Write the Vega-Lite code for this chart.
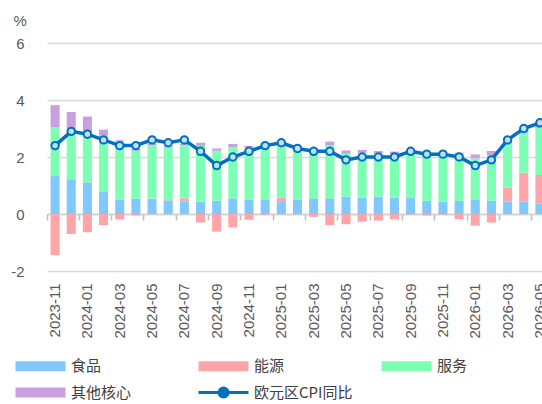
{
  "$schema": "https://vega.github.io/schema/vega-lite/v6.json",
  "width": 501,
  "height": 228,
  "autosize": {"type": "none"},
  "padding": {"left": 47, "top": 43, "right": -6, "bottom": 133},
  "background": "white",
  "config": {"view": {"stroke": null}, "font": "Liberation Sans"},
  "datasets": {
    "bars": [
      {"m":"2023-11","c":"食品","v":1.33},{"m":"2023-11","c":"能源","v":-1.44},{"m":"2023-11","c":"服务","v":1.71},{"m":"2023-11","c":"其他核心","v":0.78},
      {"m":"2023-12","c":"食品","v":1.22},{"m":"2023-12","c":"能源","v":-0.70},{"m":"2023-12","c":"服务","v":1.78},{"m":"2023-12","c":"其他核心","v":0.58},
      {"m":"2024-01","c":"食品","v":1.11},{"m":"2024-01","c":"能源","v":-0.64},{"m":"2024-01","c":"服务","v":1.79},{"m":"2024-01","c":"其他核心","v":0.52},
      {"m":"2024-02","c":"食品","v":0.77},{"m":"2024-02","c":"能源","v":-0.39},{"m":"2024-02","c":"服务","v":1.98},{"m":"2024-02","c":"其他核心","v":0.21},
      {"m":"2024-03","c":"食品","v":0.50},{"m":"2024-03","c":"能源","v":-0.19},{"m":"2024-03","c":"服务","v":2.05},{"m":"2024-03","c":"其他核心","v":0.04},
      {"m":"2024-04","c":"食品","v":0.54},{"m":"2024-04","c":"能源","v":-0.05},{"m":"2024-04","c":"服务","v":1.68},{"m":"2024-04","c":"其他核心","v":0.06},
      {"m":"2024-05","c":"食品","v":0.49},{"m":"2024-05","c":"能源","v":0.05},{"m":"2024-05","c":"服务","v":1.88},{"m":"2024-05","c":"其他核心","v":0.05},
      {"m":"2024-06","c":"食品","v":0.47},{"m":"2024-06","c":"能源","v":0.02},{"m":"2024-06","c":"服务","v":1.87},{"m":"2024-06","c":"其他核心","v":0.03},
      {"m":"2024-07","c":"食品","v":0.43},{"m":"2024-07","c":"能源","v":0.12},{"m":"2024-07","c":"服务","v":1.87},{"m":"2024-07","c":"其他核心","v":0.04},
      {"m":"2024-08","c":"食品","v":0.43},{"m":"2024-08","c":"能源","v":-0.30},{"m":"2024-08","c":"服务","v":1.96},{"m":"2024-08","c":"其他核心","v":0.11},
      {"m":"2024-09","c":"食品","v":0.47},{"m":"2024-09","c":"能源","v":-0.62},{"m":"2024-09","c":"服务","v":1.75},{"m":"2024-09","c":"其他核心","v":0.08},
      {"m":"2024-10","c":"食品","v":0.55},{"m":"2024-10","c":"能源","v":-0.47},{"m":"2024-10","c":"服务","v":1.79},{"m":"2024-10","c":"其他核心","v":0.12},
      {"m":"2024-11","c":"食品","v":0.51},{"m":"2024-11","c":"能源","v":-0.20},{"m":"2024-11","c":"服务","v":1.83},{"m":"2024-11","c":"其他核心","v":0.05},
      {"m":"2024-12","c":"食品","v":0.49},{"m":"2024-12","c":"能源","v":-0.03},{"m":"2024-12","c":"服务","v":1.96},{"m":"2024-12","c":"其他核心","v":0.02},
      {"m":"2025-01","c":"食品","v":0.42},{"m":"2025-01","c":"能源","v":0.16},{"m":"2025-01","c":"服务","v":1.92},{"m":"2025-01","c":"其他核心","v":0.02},
      {"m":"2025-02","c":"食品","v":0.51},{"m":"2025-02","c":"能源","v":0.00},{"m":"2025-02","c":"服务","v":1.79},{"m":"2025-02","c":"其他核心","v":0.02},
      {"m":"2025-03","c":"食品","v":0.55},{"m":"2025-03","c":"能源","v":-0.10},{"m":"2025-03","c":"服务","v":1.70},{"m":"2025-03","c":"其他核心","v":0.05},
      {"m":"2025-04","c":"食品","v":0.55},{"m":"2025-04","c":"能源","v":-0.39},{"m":"2025-04","c":"服务","v":1.87},{"m":"2025-04","c":"其他核心","v":0.12},
      {"m":"2025-05","c":"食品","v":0.61},{"m":"2025-05","c":"能源","v":-0.36},{"m":"2025-05","c":"服务","v":1.50},{"m":"2025-05","c":"其他核心","v":0.12},
      {"m":"2025-06","c":"食品","v":0.58},{"m":"2025-06","c":"能源","v":-0.27},{"m":"2025-06","c":"服务","v":1.57},{"m":"2025-06","c":"其他核心","v":0.10},
      {"m":"2025-07","c":"食品","v":0.61},{"m":"2025-07","c":"能源","v":-0.23},{"m":"2025-07","c":"服务","v":1.52},{"m":"2025-07","c":"其他核心","v":0.08},
      {"m":"2025-08","c":"食品","v":0.57},{"m":"2025-08","c":"能源","v":-0.19},{"m":"2025-08","c":"服务","v":1.50},{"m":"2025-08","c":"其他核心","v":0.12},
      {"m":"2025-09","c":"食品","v":0.56},{"m":"2025-09","c":"能源","v":-0.02},{"m":"2025-09","c":"服务","v":1.64},{"m":"2025-09","c":"其他核心","v":0.02},
      {"m":"2025-10","c":"食品","v":0.46},{"m":"2025-10","c":"能源","v":-0.05},{"m":"2025-10","c":"服务","v":1.61},{"m":"2025-10","c":"其他核心","v":0.05},
      {"m":"2025-11","c":"食品","v":0.43},{"m":"2025-11","c":"能源","v":-0.02},{"m":"2025-11","c":"服务","v":1.66},{"m":"2025-11","c":"其他核心","v":0.03},
      {"m":"2025-12","c":"食品","v":0.46},{"m":"2025-12","c":"能源","v":-0.18},{"m":"2025-12","c":"服务","v":1.61},{"m":"2025-12","c":"其他核心","v":0.08},
      {"m":"2026-01","c":"食品","v":0.49},{"m":"2026-01","c":"能源","v":-0.41},{"m":"2026-01","c":"服务","v":1.46},{"m":"2026-01","c":"其他核心","v":0.14},
      {"m":"2026-02","c":"食品","v":0.47},{"m":"2026-02","c":"能源","v":-0.30},{"m":"2026-02","c":"服务","v":1.60},{"m":"2026-02","c":"其他核心","v":0.14},
      {"m":"2026-03","c":"食品","v":0.43},{"m":"2026-03","c":"能源","v":0.49},{"m":"2026-03","c":"服务","v":1.55},{"m":"2026-03","c":"其他核心","v":0.08},
      {"m":"2026-04","c":"食品","v":0.43},{"m":"2026-04","c":"能源","v":1.02},{"m":"2026-04","c":"服务","v":1.40},{"m":"2026-04","c":"其他核心","v":0.12},
      {"m":"2026-05","c":"食品","v":0.36},{"m":"2026-05","c":"能源","v":1.01},{"m":"2026-05","c":"服务","v":1.65},{"m":"2026-05","c":"其他核心","v":0.15}
    ],
    "cpi": [
      {"m":"2023-11","v":2.4},{"m":"2023-12","v":2.9},{"m":"2024-01","v":2.8},{"m":"2024-02","v":2.6},
      {"m":"2024-03","v":2.4},{"m":"2024-04","v":2.4},{"m":"2024-05","v":2.6},{"m":"2024-06","v":2.5},
      {"m":"2024-07","v":2.6},{"m":"2024-08","v":2.2},{"m":"2024-09","v":1.7},{"m":"2024-10","v":2.0},
      {"m":"2024-11","v":2.2},{"m":"2024-12","v":2.4},{"m":"2025-01","v":2.5},{"m":"2025-02","v":2.3},
      {"m":"2025-03","v":2.2},{"m":"2025-04","v":2.2},{"m":"2025-05","v":1.9},{"m":"2025-06","v":2.0},
      {"m":"2025-07","v":2.0},{"m":"2025-08","v":2.0},{"m":"2025-09","v":2.2},{"m":"2025-10","v":2.1},
      {"m":"2025-11","v":2.1},{"m":"2025-12","v":2.0},{"m":"2026-01","v":1.7},{"m":"2026-02","v":1.9},
      {"m":"2026-03","v":2.6},{"m":"2026-04","v":3.0},{"m":"2026-05","v":3.2}
    ]
  },
  "layer": [
    {
      "data": {"name": "bars"},
      "mark": {"type": "bar", "width": {"band": 0.56}},
      "encoding": {
        "x": {
          "field": "m", "type": "ordinal",
          "scale": {"paddingInner": 0, "paddingOuter": 0},
          "axis": {
            "orient": "bottom",
            "values": ["2023-11","2024-01","2024-03","2024-05","2024-07","2024-09","2024-11","2025-01","2025-03","2025-05","2025-07","2025-09","2025-11","2026-01","2026-03","2026-05"],
            "ticks": false, "domain": false, "grid": false,
            "labelAngle": 270, "labelPadding": 12,
            "labelFont": "Liberation Sans", "labelFontSize": 15, "labelColor": "#595959",
            "title": null
          }
        },
        "y": {
          "field": "v", "type": "quantitative", "stack": "zero",
          "scale": {"domain": [-2, 6], "nice": false, "zero": false},
          "axis": {
            "values": [-2, 0, 2, 4, 6],
            "labelExpr": "replace(datum.label, '\u2212', '-')",
            "domain": false, "ticks": false, "labelPadding": 23,
            "labelFont": "Liberation Sans", "labelFontSize": 15, "labelColor": "#595959",
            "gridColor": "#d9d9d9", "gridWidth": 1.5,
            "title": "%", "titleAngle": 0, "titleX": -34, "titleY": -23,
            "titleAlign": "left", "titleBaseline": "middle",
            "titleFont": "Liberation Sans", "titleFontWeight": "normal", "titleFontSize": 15, "titleColor": "#595959"
          }
        },
        "color": {
          "field": "c", "type": "nominal",
          "scale": {
            "domain": ["食品", "能源", "服务", "其他核心", "欧元区CPI同比"],
            "range": ["#80c8ff", "#ffa4a9", "#7dffb4", "#c8a0e0", "#0070c0"]
          },
          "legend": {
            "orient": "none", "legendX": -34, "legendY": 314,
            "columns": 3, "direction": "horizontal", "title": null,
            "symbolSize": 100, "labelOffset": 43, "gridAlign": "all",
            "columnPadding": 22, "rowPadding": 5,
            "labelFont": "Noto Sans CJK SC", "labelFontSize": 15, "labelColor": "#404040", "labelLimit": 300,
            "encode": {
              "symbols": {
                "update": {
                  "shape": {"signal": "datum.value === '欧元区CPI同比' ? 'M-1,0H3.1M4.9,0H9M4.9,0A0.9,0.9,0,1,1,3.1,0A0.9,0.9,0,1,1,4.9,0' : 'M-1,-1H9V1H-1Z'"},
                  "fill": {"signal": "datum.value === '欧元区CPI同比' ? '#bfe0f8' : scale('color', datum.value)"},
                  "stroke": {"signal": "datum.value === '欧元区CPI同比' ? '#0070c0' : 'transparent'"},
                  "strokeWidth": {"signal": "datum.value === '欧元区CPI同比' ? 3 : 0"},
                  "opacity": {"value": 1}
                }
              }
            }
          }
        },
        "order": {"field": "c", "sort": "descending"}
      }
    },
    {
      "data": {"name": "cpi"},
      "mark": {"type": "line", "strokeWidth": 3.5},
      "encoding": {
        "x": {
          "field": "m", "type": "ordinal",
          "axis": {
            "orient": "bottom",
            "values": ["2023-11","2024-01","2024-03","2024-05","2024-07","2024-09","2024-11","2025-01","2025-03","2025-05","2025-07","2025-09","2025-11","2026-01","2026-03","2026-05"],
            "labels": false, "ticks": true, "tickSize": 6, "tickColor": "#bfbfbf", "tickWidth": 1.5,
            "bandPosition": 0, "domain": true, "domainColor": "#d0d0d0", "domainWidth": 1.5,
            "offset": -57, "grid": false, "title": null
          }
        },
        "y": {"field": "v", "type": "quantitative"},
        "color": {"datum": "欧元区CPI同比"}
      }
    },
    {
      "data": {"name": "cpi"},
      "mark": {"type": "circle", "size": 55, "fill": "#bfe0f8", "stroke": "#0070c0", "strokeWidth": 2, "opacity": 1},
      "encoding": {
        "x": {"field": "m", "type": "ordinal", "axis": null},
        "y": {"field": "v", "type": "quantitative"}
      }
    }
  ],
  "resolve": {"axis": {"x": "independent"}}
}
